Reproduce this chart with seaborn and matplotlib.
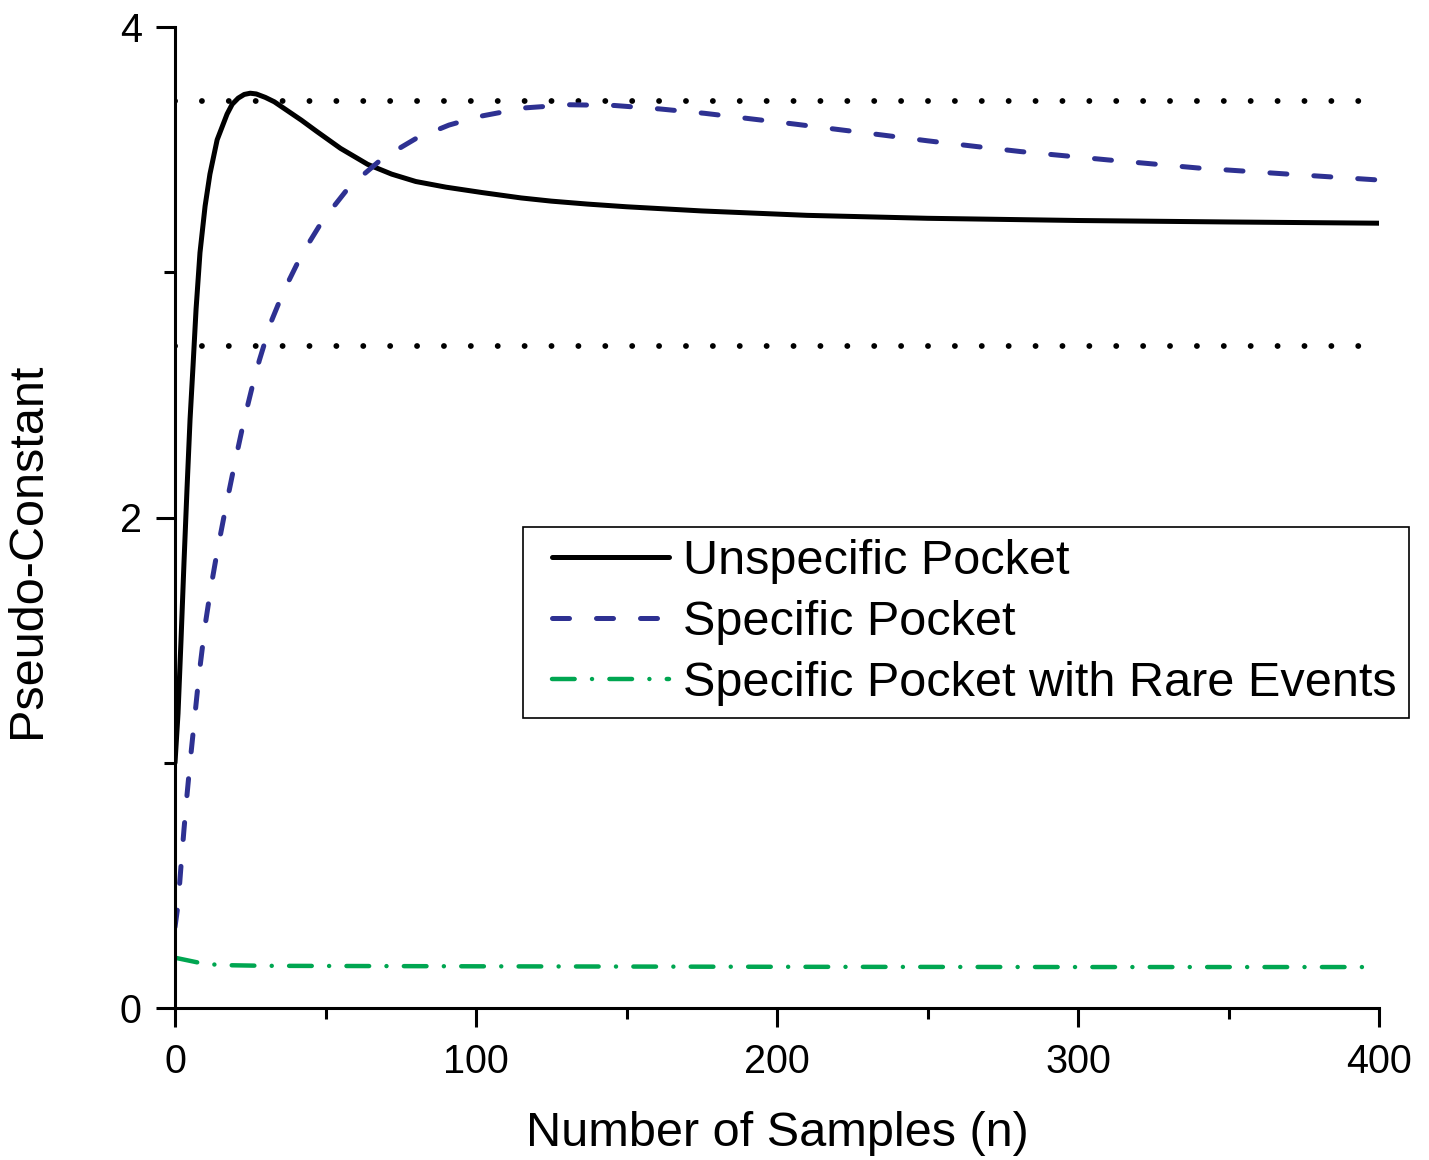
import numpy as np
import pandas as pd
import matplotlib
matplotlib.use("Agg")
import matplotlib.pyplot as plt
from matplotlib.lines import Line2D
from matplotlib.legend_handler import HandlerLine2D
import seaborn as sns

# values
n_unspec = [0, 1, 2, 3, 4, 5, 6, 7, 8.3, 10, 11.6, 14, 17.3, 19, 21, 23, 25, 27, 30,
            33, 36, 42, 47, 55, 64, 72, 80, 90, 102, 115, 125, 137, 150, 175, 210,
            250, 300, 350, 400]
y_unspec = [1.0, 1.2, 1.5, 1.82, 2.12, 2.4, 2.62, 2.85, 3.08, 3.27, 3.40, 3.54, 3.645,
            3.685, 3.71, 3.725, 3.73, 3.727, 3.713, 3.695, 3.67, 3.62, 3.575, 3.505,
            3.44, 3.40, 3.37, 3.347, 3.325, 3.303, 3.29, 3.278, 3.267, 3.25, 3.232,
            3.22, 3.211, 3.205, 3.20]

n_spec = [0, 1, 2, 3, 4, 5, 6, 8, 10, 12, 14, 17, 20, 23, 26, 28, 32, 36, 42, 49, 58,
          69, 80, 91, 101, 116, 131, 146, 161, 176, 191, 206, 221, 236, 250, 266, 281,
          310, 340, 370, 400]
y_spec = [0.33, 0.42, 0.58, 0.73, 0.87, 1.0, 1.12, 1.36, 1.56, 1.72, 1.86, 2.05, 2.23,
          2.40, 2.55, 2.64, 2.80, 2.92, 3.07, 3.21, 3.35, 3.465, 3.545, 3.60, 3.635,
          3.67, 3.683, 3.680, 3.666, 3.648, 3.626, 3.604, 3.581, 3.558, 3.536, 3.513,
          3.492, 3.458, 3.425, 3.40, 3.376]

n_rare = [0, 9, 15, 30, 100, 200, 300, 400]
y_rare = [0.205, 0.182, 0.175, 0.172, 0.170, 0.168, 0.167, 0.167]

ref_levels = [3.7, 2.7]
ref_span = [0, 398.5]

labels = ["Unspecific Pocket", "Specific Pocket", "Specific Pocket with Rare Events"]
colors = ["#000000", "#2E3192", "#00A651"]

sns.set_style("ticks")
plt.rcParams['font.family'] = ['Liberation Sans', 'DejaVu Sans']
plt.rcParams.update({"text.color": "black", "axes.labelcolor": "black",
                     "xtick.color": "black", "ytick.color": "black"})

fig = plt.figure(figsize=(14.29, 11.6), dpi=100)
ax = fig.add_axes([175 / 1429, 1 - 1008 / 1160, (1379 - 175) / 1429, (1008 - 27) / 1160])

for y in ref_levels:
    ax.hlines(y, ref_span[0], ref_span[1], color="black", linewidth=4.2,
              linestyles=[(0, (0.01, 4.6))], capstyle="round")

sns.lineplot(x=n_unspec, y=y_unspec, ax=ax, color=colors[0], linewidth=3.6,
             label=labels[0], sort=False)
sns.lineplot(x=n_spec, y=y_spec, ax=ax, color=colors[1], linewidth=3.6,
             linestyle=(0, (3.4, 5.4)), dash_capstyle="round",
             label=labels[1], sort=False)
sns.lineplot(x=n_rare, y=y_rare, ax=ax, color=colors[2], linewidth=3.2,
             linestyle=(0, (5.1, 3.9, 0.01, 3.9)), dash_capstyle="round",
             label=labels[2], sort=False)

ax.set_xlim(0, 400)
ax.set_ylim(0, 4)
ax.set_xticks([0, 100, 200, 300, 400])
ax.set_xticks([50, 150, 250, 350], minor=True)
ax.set_yticks([0, 2, 4])
ax.set_yticks([1, 3], minor=True)
ax.tick_params(axis="both", which="major", length=14, width=2.2, labelsize=28.5,
               direction="out", color="black", labelcolor="black")
ax.tick_params(axis="x", which="major", pad=11)
ax.tick_params(axis="y", which="major", pad=10)
ax.tick_params(axis="both", which="minor", length=8, width=2.2, direction="out",
               color="black")
sns.despine(ax=ax)
for side in ["left", "bottom"]:
    ax.spines[side].set_linewidth(2.2)
    ax.spines[side].set_color("black")

ax.set_xlabel("Number of Samples (n)", fontsize=35, labelpad=22, color="black")
ax.set_ylabel("Pseudo-Constant", fontsize=35, color="black")
ax.yaxis.set_label_coords(-0.104, 0.467)

leg = ax.legend(loc="upper right", bbox_to_anchor=(1409 / 1429, 1 - 527 / 1160),
                bbox_transform=fig.transFigure, borderaxespad=0, fontsize=35,
                handlelength=2.75, handletextpad=0.3, labelspacing=0.33,
                borderpad=0.25, frameon=True, fancybox=False,
                handler_map={Line2D: HandlerLine2D(xpad=0.36)})
leg.get_frame().set_edgecolor("black")
leg.get_frame().set_linewidth(1.2)
leg.get_frame().set_alpha(1)
for t in leg.get_texts():
    t.set_color("black")

fig.savefig("out.png", dpi=100, facecolor="white")
